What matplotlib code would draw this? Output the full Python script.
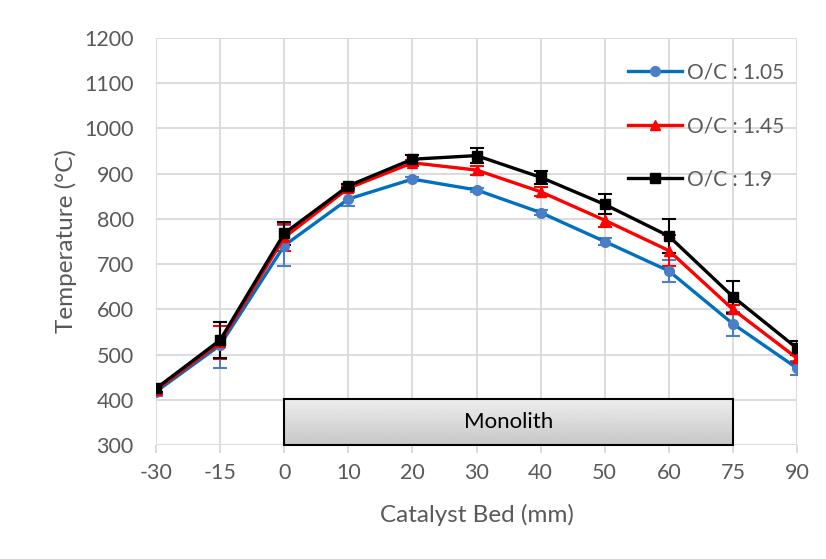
import numpy as np
import matplotlib.pyplot as plt
from matplotlib.patches import Rectangle

plt.rcParams['font.family'] = ['Lato', 'DejaVu Sans']

positions = ['-30', '-15', '0', '10', '20', '30', '40', '50', '60', '75', '90']

temp_105 = [418, 521, 741, 844, 888, 864, 814, 750, 685, 568, 470]
err_105 = [10, 50, 45, 16, 4, 4, 5, 7, 24, 27, 15]

temp_145 = [422, 527, 759, 868, 924, 908, 860, 797, 730, 600, 492]
err_145 = [10, 37, 29, 5, 6, 10, 10, 14, 34, 10, 8]

temp_190 = [425, 532, 768, 873, 932, 940, 892, 832, 762, 628, 514]
err_190 = [8, 40, 25, 5, 10, 16, 14, 22, 37, 35, 15]

series = [
    ('O/C : 1.05', temp_105, err_105, '#0070c0', '#4a7ec6', 'o', 7),
    ('O/C : 1.45', temp_145, err_145, '#ff0000', '#ff0000', '^', 7),
    ('O/C : 1.9', temp_190, err_190, '#000000', '#000000', 's', 7),
]

label_color = '#595959'
grid_color = '#d9d9d9'


def main():
    fig = plt.figure(figsize=(8.26, 5.59), dpi=100)
    ax = fig.add_axes([0.1889, 0.2039, 0.7760, 0.7281])
    x = np.arange(len(positions))

    for name, y, err, lc, mc, marker, ms in series:
        ax.errorbar(x, y, yerr=err, fmt='none', ecolor=mc, elinewidth=1.5,
                    capsize=5, capthick=1.5, zorder=3)
        ax.plot(x, y, color=lc, lw=2.4, marker=marker, ms=ms,
                markerfacecolor=mc, markeredgecolor=mc, label=name, zorder=4)

    # Monolith box spanning catalyst bed from 0 to 75 mm
    x0, x1 = positions.index('0'), positions.index('75')
    grad = np.linspace(0.93, 0.78, 50).reshape(-1, 1)
    ax.imshow(grad, cmap='gray', vmin=0, vmax=1, aspect='auto',
              extent=(x0, x1, 300, 401), origin='upper', zorder=5)
    ax.add_patch(Rectangle((x0, 300), x1 - x0, 101, fill=False,
                           edgecolor='black', lw=1.5, zorder=6, clip_on=False))
    ax.text((x0 + x1) / 2, 350, 'Monolith', ha='center', va='center',
            fontsize=16, color='black', zorder=7)

    ax.set_xlim(0, len(positions) - 1)
    ax.set_ylim(300, 1200)
    ax.set_xticks(x)
    ax.set_xticklabels(positions)
    ax.set_yticks(np.arange(300, 1201, 100))
    ax.grid(True, color=grid_color, lw=1.3)
    ax.set_axisbelow(True)
    for s in ax.spines.values():
        s.set_visible(False)
    ax.tick_params(axis='x', length=6, color=grid_color, width=1.3,
                   labelsize=15.5, labelcolor=label_color, pad=7)
    ax.tick_params(axis='y', length=0, labelsize=15.5, labelcolor=label_color, pad=16)

    ax.set_xlabel('Catalyst Bed (mm)', fontsize=17.5, color=label_color, labelpad=15)
    ax.set_ylabel('Temperature (°C)', fontsize=17.5, color=label_color, labelpad=5)

    leg = ax.legend(loc='upper right', bbox_to_anchor=(1.0, 0.97), frameon=False,
                    fontsize=15, labelspacing=1.6, handlelength=2.6,
                    handletextpad=0.25, borderaxespad=0.2)
    for t in leg.get_texts():
        t.set_color(label_color)

    fig.savefig('out.png', dpi=100)


if __name__ == '__main__':
    main()
